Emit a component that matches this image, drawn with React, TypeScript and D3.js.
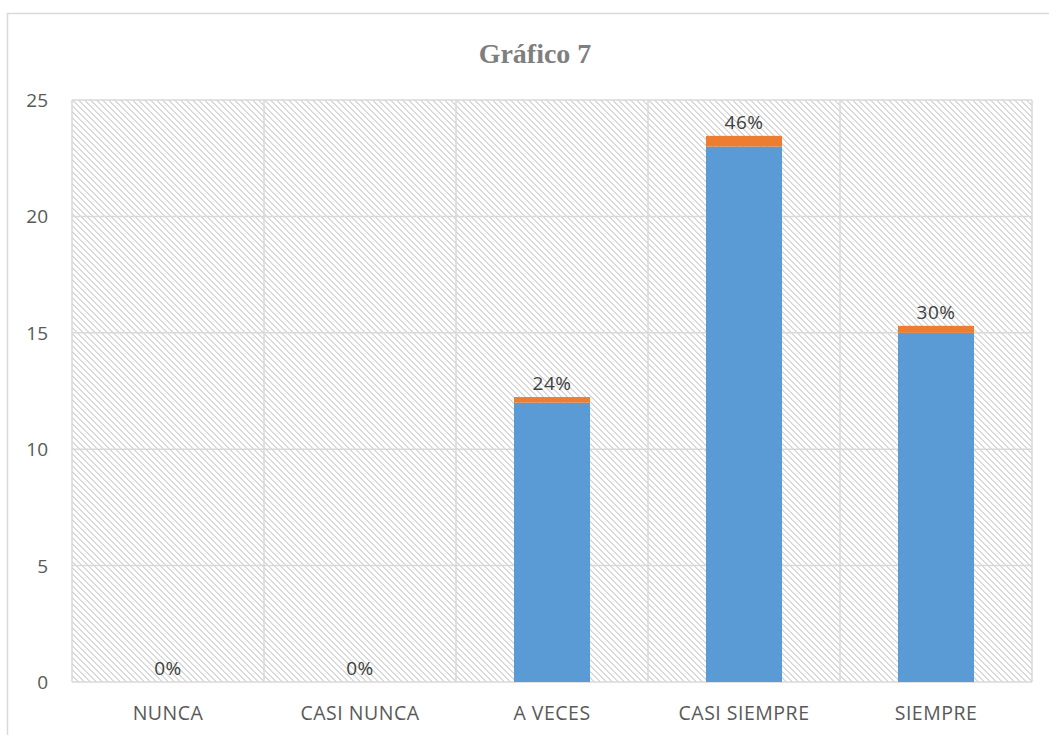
import React from "react";
import * as d3 from "d3";

const categories = ["NUNCA", "CASI NUNCA", "A VECES", "CASI SIEMPRE", "SIEMPRE"];
const counts = [0, 0, 12, 23, 15];
const percents = [0, 0, 0.24, 0.46, 0.30];
const percentLabels = ["0%", "0%", "24%", "46%", "30%"];
const yTicks = [0, 5, 10, 15, 20, 25];

export default function App() {
  const W = 1049, H = 735;
  const left = 72, right = 1032, top = 100, bottom = 682;
  const x = d3.scaleBand<string>().domain(categories).range([left, right]).paddingInner(0).paddingOuter(0);
  const y = d3.scaleLinear().domain([0, 25]).range([bottom, top]);
  const barW = x.bandwidth() * 0.396;
  const font = "'Open Sans', 'Liberation Sans', sans-serif";
  const P = 6;
  const hatchCells = d3.range(P).map((r) => ({ r }));

  return (
    <svg width={W} height={H} style={{ position: "absolute", left: 0, top: 0 }}>
      <defs>
        <pattern id="hatch" width={P} height={P} patternUnits="userSpaceOnUse" x={left} y={top}>
          <rect width={P} height={P} fill="#ffffff" />
          {hatchCells.map(({ r }) => (
            <g key={r}>
              <rect x={r} y={r} width={Math.min(2, P - r)} height={1} fill="#dadada" />
              {r === P - 1 && <rect x={0} y={r} width={1} height={1} fill="#dadada" />}
            </g>
          ))}
        </pattern>
      </defs>
      <rect x={0} y={0} width={W} height={H} fill="#ffffff" />
      <path d={`M7.5,${H} V13.5 H${W}`} fill="none" stroke="#d9d9d9" strokeWidth={1.5} />
      <text x={535} y={63} textAnchor="middle" fontFamily="'Liberation Serif', 'Times New Roman', serif" fontWeight="bold" fontSize={28} fill="#7f7f7f">Gráfico 7</text>
      <rect x={left} y={top} width={right - left} height={bottom - top} fill="url(#hatch)" />
      {yTicks.map((t) => (
        <line key={"h" + t} x1={left} x2={right} y1={y(t)} y2={y(t)} stroke="#d9d9d9" strokeWidth={1.5} />
      ))}
      {categories.map((c) => (
        <line key={"v" + c} x1={x(c)!} x2={x(c)!} y1={top} y2={bottom} stroke="#d9d9d9" strokeWidth={1.5} />
      ))}
      <line x1={right} x2={right} y1={top} y2={bottom} stroke="#d9d9d9" strokeWidth={1.5} />
      {categories.map((c, i) => {
        const cx = x(c)! + x.bandwidth() / 2;
        return (
          <g key={"b" + c}>
            {counts[i] > 0 && (
              <rect x={cx - barW / 2} y={y(counts[i])} width={barW} height={y(0) - y(counts[i])} fill="#5b9bd5" />
            )}
            {percents[i] > 0 && (
              <rect x={cx - barW / 2} y={y(counts[i] + percents[i])} width={barW} height={y(counts[i]) - y(counts[i] + percents[i])} fill="#ed7d31" />
            )}
            <text x={cx} y={y(counts[i] + percents[i]) - 7} textAnchor="middle" fontFamily={font} fontSize={19} letterSpacing={0.5} fill="#404040">{percentLabels[i]}</text>
            <text x={cx} y={720} textAnchor="middle" fontFamily={font} fontSize={19.5} letterSpacing={0.5} fill="#595959">{c}</text>
          </g>
        );
      })}
      {yTicks.map((t) => (
        <text key={"t" + t} x={48} y={y(t) + 7} textAnchor="end" fontFamily={font} fontSize={19} fill="#595959">{t}</text>
      ))}
    </svg>
  );
}
